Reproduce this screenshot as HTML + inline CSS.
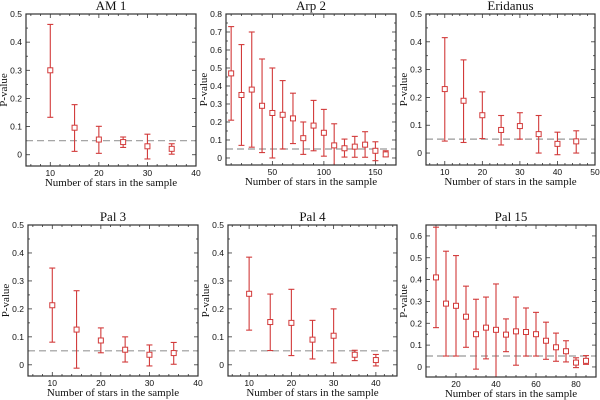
<!DOCTYPE html>
<html><head><meta charset="utf-8"><style>
body{margin:0;background:#fff;width:600px;height:400px;overflow:hidden}
svg{display:block}
.t{font-family:"Liberation Serif",serif;font-size:13px;fill:#111}
.ax{font-family:"Liberation Serif",serif;font-size:11px;fill:#111}
.tk{font-family:"Liberation Sans",sans-serif;font-size:8.5px;fill:#111}
</style></head><body>
<svg id="fig" width="600" height="400"></svg>
<script>
// AM 1
const am1N=[10,15,20,25,30,35];
const am1P=[0.30,0.096,0.054,0.045,0.03,0.021];
const am1Hi=[0.463,0.178,0.101,0.063,0.073,0.039];
const am1Lo=[0.133,0.012,0.005,0.026,-0.015,0.002];
// Arp 2
const arp2N=[10,20,30,40,50,60,70,80,90,100,110,120,130,140,150,160];
const arp2P=[0.47,0.35,0.38,0.29,0.25,0.24,0.22,0.11,0.18,0.14,0.07,0.054,0.063,0.074,0.04,0.02];
const arp2Hi=[0.73,0.63,0.70,0.55,0.50,0.43,0.36,0.20,0.32,0.27,0.19,0.105,0.12,0.146,0.09,0.04];
const arp2Lo=[0.21,0.07,0.06,0.03,0.0,0.05,0.08,0.02,0.04,0.01,-0.05,0.005,0.004,0.004,-0.015,0.007];
// Eridanus
const eriN=[10,15,20,25,30,35,40,45];
const eriP=[0.23,0.188,0.136,0.083,0.097,0.068,0.033,0.042];
const eriHi=[0.415,0.335,0.22,0.135,0.145,0.135,0.075,0.08];
const eriLo=[0.043,0.038,0.052,0.029,0.05,0.0,-0.006,0.0];
// Pal 3
const pal3N=[10,15,20,25,30,35];
const pal3P=[0.213,0.126,0.087,0.054,0.036,0.042];
const pal3Hi=[0.346,0.265,0.132,0.1,0.071,0.08];
const pal3Lo=[0.081,-0.012,0.043,0.01,-0.004,0.002];
// Pal 4
const pal4N=[10,15,20,25,30,35,40];
const pal4P=[0.254,0.153,0.15,0.09,0.104,0.036,0.017];
const pal4Hi=[0.385,0.253,0.27,0.159,0.2,0.052,0.037];
const pal4Lo=[0.124,0.051,0.033,0.021,0.007,0.015,-0.004];
// Pal 15
const pal15N=[10,15,20,25,30,35,40,45,50,55,60,65,70,75,80,85];
const pal15P=[0.41,0.29,0.28,0.23,0.15,0.18,0.17,0.148,0.163,0.16,0.15,0.12,0.09,0.072,0.02,0.028];
const pal15Hi=[0.64,0.53,0.51,0.37,0.31,0.32,0.38,0.22,0.32,0.27,0.25,0.205,0.155,0.12,0.042,0.052];
const pal15Lo=[0.18,0.05,0.05,0.09,-0.01,0.037,-0.05,0.07,0.008,0.05,0.05,0.035,0.026,0.023,-0.003,0.012];
// tick labels
const yTicks05=[0,0.1,0.2,0.3,0.4,0.5];
const yTicks08=[0,0.1,0.2,0.3,0.4,0.5,0.6,0.7,0.8];
const yTicks06=[0,0.1,0.2,0.3,0.4,0.5,0.6];
const xTicks40=[10,20,30,40];
const xTicks50=[10,20,30,40,50];
const xTicksArp=[50,100,150];
const xTicksPal4=[10,20,30,40];
const xTicksPal15=[20,40,60,80];
const threshold=0.05;

const NS='http://www.w3.org/2000/svg';
const fig=document.getElementById('fig');
const RED='#d23a3a';
function mk(tag,attrs,parent){const e=document.createElementNS(NS,tag);for(const k in attrs)e.setAttribute(k,attrs[k]);parent.appendChild(e);return e;}

function panel(o){
  const g=mk('g',{},fig);
  
  
  const sx=v=>o.L+(v-o.x0)/(o.x1-o.x0)*(o.R-o.L);
  const sy=v=>o.B-(v-o.y0)/(o.y1-o.y0)*(o.B-o.T);
  const cid='c'+o.id;
  const cp=mk('clipPath',{id:cid},g);mk('rect',{x:o.L,y:o.T,width:o.R-o.L,height:o.B-o.T},cp);
  const t=mk('text',{x:(o.L+o.R)/2,y:o.T-4,'text-anchor':'middle',class:'t'},g);t.textContent=o.title;
  
  
  const yt=o.yt, ystep=yt[1]-yt[0];
  for(let v=yt[0];v<=o.y1+1e-9;v+=ystep/2){
    const y=sy(v),maj=Math.abs(Math.round(v/ystep)*ystep-v)<1e-6;
    mk('line',{x1:o.L,x2:o.L+(maj?4:2),y1:y,y2:y,stroke:'#333','stroke-width':0.8},g);
    mk('line',{x1:o.R,x2:o.R-(maj?4:2),y1:y,y2:y,stroke:'#333','stroke-width':0.8},g);
  }
  yt.forEach(v=>{const e=mk('text',{x:o.L-4,y:sy(v)+3,'text-anchor':'end',class:'tk'},g);e.textContent=v===0?'0':String(v);
    
    });
  const xt=o.xt, xstep=xt[1]-xt[0], minor=xstep/o.xminor;
  for(let v=Math.ceil(o.x0/minor)*minor;v<=o.x1+1e-9;v+=minor){
    const x=sx(v),maj=Math.abs(Math.round(v/xstep)*xstep-v)<1e-6;
    mk('line',{x1:x,x2:x,y1:o.B,y2:o.B-(maj?4:2),stroke:'#333','stroke-width':0.8},g);
    mk('line',{x1:x,x2:x,y1:o.T,y2:o.T+(maj?4:2),stroke:'#333','stroke-width':0.8},g);
  }
  xt.forEach(v=>{const e=mk('text',{x:sx(v),y:o.B+10,'text-anchor':'middle',class:'tk'},g);e.textContent=String(v);
    
    });
  const xl=mk('text',{x:(o.L+o.R)/2,y:o.B+20,'text-anchor':'middle',class:'ax'},g);xl.textContent='Number of stars in the sample';
  
  
  const yx=o.L-19,yy=(o.T+o.B)/2;
  const yl=mk('text',{x:yx,y:yy,'text-anchor':'middle',class:'ax',transform:`rotate(-90 ${yx} ${yy})`},g);yl.textContent='P-value';
  
  
  const th=mk('line',{x1:o.L,x2:o.R,y1:sy(threshold),y2:sy(threshold),stroke:'#999','stroke-width':1.2,'stroke-dasharray':'7,4'},g);
  
  
  const dg=mk('g',{'clip-path':`url(#${cid})`},g);
  o.n.forEach((n,i)=>{
    const x=sx(n);
    const eb=mk('g',{stroke:RED,'stroke-width':1.1,fill:'none'},dg);
    
    
    mk('line',{x1:x,x2:x,y1:sy(o.hi[i]),y2:sy(o.lo[i])},eb);
    mk('line',{x1:x-3,x2:x+3,y1:sy(o.hi[i]),y2:sy(o.hi[i])},eb);
    mk('line',{x1:x-3,x2:x+3,y1:sy(o.lo[i]),y2:sy(o.lo[i])},eb);
    const r=mk('rect',{x:x-2.5,y:sy(o.p[i])-2.5,width:5,height:5,fill:'#fff',stroke:RED,'stroke-width':1},dg);
    
    
  });
  const fr=mk('rect',{x:o.L,y:o.T,width:o.R-o.L,height:o.B-o.T,fill:'none',stroke:'#333','stroke-width':1.2},g);
  
  
}
panel({id:'am1',title:'AM 1',L:26,R:196,T:14,B:166,x0:5,x1:40,y0:-0.04,y1:0.5,yt:yTicks05,xt:xTicks40,xminor:5,n:am1N,p:am1P,hi:am1Hi,lo:am1Lo});
panel({id:'arp2',title:'Arp 2',L:226,R:396,T:14,B:165,x0:5,x1:170,y0:-0.039,y1:0.8,yt:yTicks08,xt:xTicksArp,xminor:5,n:arp2N,p:arp2P,hi:arp2Hi,lo:arp2Lo});
panel({id:'eridanus',title:'Eridanus',L:426,R:595,T:14,B:165,x0:5,x1:50,y0:-0.043,y1:0.5,yt:yTicks05,xt:xTicks50,xminor:5,n:eriN,p:eriP,hi:eriHi,lo:eriLo});
panel({id:'pal3',title:'Pal 3',L:28,R:198,T:225,B:376,x0:5,x1:40,y0:-0.04,y1:0.5,yt:yTicks05,xt:xTicks40,xminor:5,n:pal3N,p:pal3P,hi:pal3Hi,lo:pal3Lo});
panel({id:'pal4',title:'Pal 4',L:228,R:397,T:225,B:376,x0:5,x1:45,y0:-0.04,y1:0.5,yt:yTicks05,xt:xTicksPal4,xminor:5,n:pal4N,p:pal4P,hi:pal4Hi,lo:pal4Lo});
panel({id:'pal15',title:'Pal 15',L:426,R:596,T:225,B:377,x0:5,x1:90,y0:-0.046,y1:0.65,yt:yTicks06,xt:xTicksPal15,xminor:4,n:pal15N,p:pal15P,hi:pal15Hi,lo:pal15Lo});
</script>
</body></html>
